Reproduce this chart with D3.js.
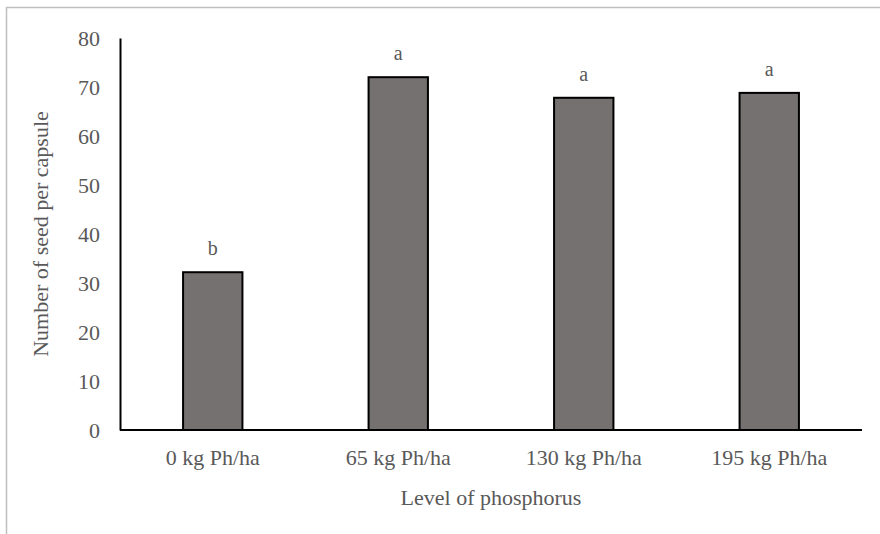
<!DOCTYPE html>
<html>
<head>
<meta charset="utf-8">
<script src="https://cdn.jsdelivr.net/npm/d3@7"></script>
<style>
  body { margin: 0; background: #fff; }
  text { font-family: "Liberation Serif", "Times New Roman", serif; fill: #595959; }
</style>
</head>
<body>
<svg id="chart" width="880" height="534"></svg>
<script>
const categories = ["0 kg Ph/ha", "65 kg Ph/ha", "130 kg Ph/ha", "195 kg Ph/ha"];
const values = [32.2, 72.0, 67.8, 68.8];
const letters = ["b", "a", "a", "a"];
const yTicks = [0, 10, 20, 30, 40, 50, 60, 70, 80];

const svg = d3.select("#chart");

// chart area border
svg.append("rect")
    .attr("x", 6.5)
    .attr("y", 7.5)
    .attr("width", 880)
    .attr("height", 540)
    .attr("fill", "none")
    .attr("stroke", "#bfbfbf")
    .attr("stroke-width", 1.5);

const plotLeft = 120, plotRight = 862, plotTop = 38, plotBottom = 430;

const x = d3.scaleBand()
    .domain(categories)
    .range([plotLeft, plotRight])
    .paddingInner(0.68)
    .paddingOuter(0.34);

const y = d3.scaleLinear()
    .domain([0, 80])
    .range([plotBottom, plotTop]);

// bars
svg.selectAll("rect.bar")
    .data(values)
    .enter().append("rect")
    .attr("class", "bar")
    .attr("x", (d, i) => x(categories[i]))
    .attr("y", d => y(d))
    .attr("width", x.bandwidth())
    .attr("height", d => y(0) - y(d))
    .attr("fill", "#767171")
    .attr("stroke", "#000")
    .attr("stroke-width", 2);

// significance letters
svg.selectAll("text.letter")
    .data(values)
    .enter().append("text")
    .attr("class", "letter")
    .attr("x", (d, i) => x(categories[i]) + x.bandwidth() / 2)
    .attr("y", d => y(d) - 17)
    .attr("text-anchor", "middle")
    .attr("font-size", 20)
    .text((d, i) => letters[i]);

// y axis
const yAxis = d3.axisLeft(y).tickValues(yTicks).tickSize(0).tickPadding(20);
const gy = svg.append("g")
    .attr("transform", `translate(${plotLeft},0)`)
    .call(yAxis);
gy.select(".domain").attr("stroke", "#000").attr("stroke-width", 2);
gy.selectAll("text")
    .attr("font-size", 22)
    .attr("font-family", "Liberation Serif, serif")
    .attr("fill", "#595959");

// x axis
const xAxis = d3.axisBottom(x).tickSize(0).tickPadding(19);
const gx = svg.append("g")
    .attr("transform", `translate(0,${plotBottom})`)
    .call(xAxis);
gx.select(".domain").attr("stroke", "#000").attr("stroke-width", 2)
    .attr("d", `M${plotLeft},0H${plotRight}`);
gx.selectAll("text")
    .attr("font-size", 22)
    .attr("font-family", "Liberation Serif, serif")
    .attr("fill", "#595959");

// axis titles
svg.append("text")
    .attr("transform", `translate(40,${(plotTop + plotBottom) / 2}) rotate(-90)`)
    .attr("text-anchor", "middle")
    .attr("dy", "0.35em")
    .attr("font-size", 22)
    .text("Number of seed per capsule");

svg.append("text")
    .attr("x", 491)
    .attr("y", 505)
    .attr("text-anchor", "middle")
    .attr("font-size", 22)
    .text("Level of phosphorus");
</script>
</body>
</html>
